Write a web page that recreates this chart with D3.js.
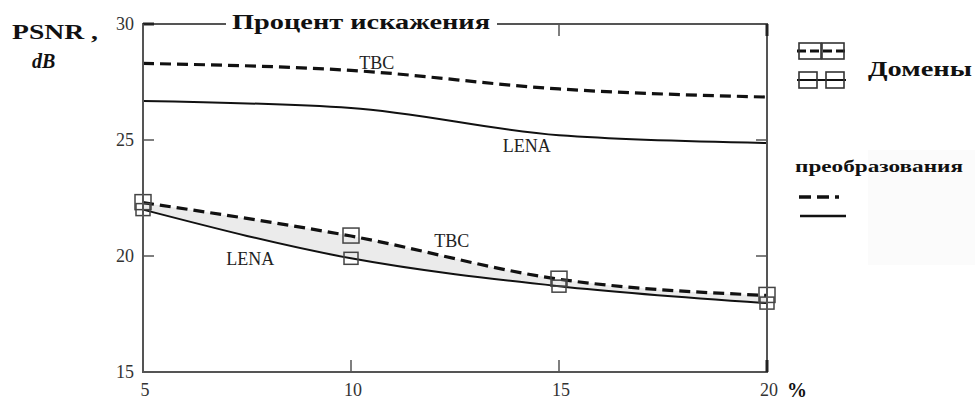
<!DOCTYPE html>
<html><head><meta charset="utf-8">
<script src="https://cdn.jsdelivr.net/npm/d3@7"></script>
<style>body{margin:0;background:#fff}svg{display:block}svg text{font-family:"Liberation Serif","Times New Roman","DejaVu Serif",serif}</style>
</head><body><svg id="c" width="975" height="402"></svg>
<script>
const distortion = [5, 10, 15, 20];
const tbcTransform = [28.3, 28.0, 27.2, 26.85];
const lenaTransform = [26.68, 26.38, 25.2, 24.87];
const tbcDomain = [22.3, 20.86, 19.0, 18.3];
const lenaDomain = [22.0, 19.9, 18.7, 17.97];
const xTicks = [5, 10, 15, 20];
const yTicks = [15, 20, 25, 30];

const svg = d3.select("#c");
const x = d3.scaleLinear().domain([5, 20]).range([143, 767]);
const y = d3.scaleLinear().domain([15, 30]).range([372, 24]);
const axisCol = "#555";

// faint legend box
svg.append("rect").attr("x", 868).attr("y", 150).attr("width", 107).attr("height", 115).attr("fill", "#fbfbfb");

// gray fill between lower curves
const area = d3.area().x((d, i) => x(distortion[i])).y0((d, i) => y(tbcDomain[i])).y1((d, i) => y(lenaDomain[i])).curve(d3.curveMonotoneX);
svg.append("path").datum(distortion).attr("d", area).attr("fill", "#ebebeb");

function line(vals) {
  return d3.line().x((d, i) => x(distortion[i])).y(d => y(d)).curve(d3.curveMonotoneX)(vals);
}
svg.append("path").attr("d", line(tbcTransform)).attr("fill", "none").attr("stroke", "#111").attr("stroke-width", 3.2).attr("stroke-dasharray", "11,6");
svg.append("path").attr("d", line(lenaTransform)).attr("fill", "none").attr("stroke", "#111").attr("stroke-width", 2);
svg.append("path").attr("d", line(tbcDomain)).attr("fill", "none").attr("stroke", "#111").attr("stroke-width", 3.2).attr("stroke-dasharray", "11,6");
svg.append("path").attr("d", line(lenaDomain)).attr("fill", "none").attr("stroke", "#111").attr("stroke-width", 2);

// markers
svg.selectAll(".mt").data(tbcDomain).join("rect")
  .attr("x", (d, i) => x(distortion[i]) - 8).attr("y", d => y(d) - 8).attr("width", 16).attr("height", 15)
  .attr("fill", "none").attr("stroke", "#444").attr("stroke-width", 1.5);
svg.selectAll(".ml").data(lenaDomain).join("rect")
  .attr("x", (d, i) => x(distortion[i]) - 7).attr("y", d => y(d) - 6).attr("width", 14).attr("height", 12)
  .attr("fill", "none").attr("stroke", "#444").attr("stroke-width", 1.5);

// frame
const g = svg.append("g");
g.append("rect").attr("x", x(5)).attr("y", y(30)).attr("width", x(20) - x(5)).attr("height", y(15) - y(30))
  .attr("fill", "none").attr("stroke", axisCol).attr("stroke-width", 2);
yTicks.forEach(t => {
  g.append("line").attr("x1", x(5)).attr("x2", x(5) + 11).attr("y1", y(t)).attr("y2", y(t)).attr("stroke", t === 30 ? "#222" : axisCol).attr("stroke-width", t === 30 ? 3 : 1.5);
  g.append("line").attr("x1", x(20)).attr("x2", x(20) - 11).attr("y1", y(t)).attr("y2", y(t)).attr("stroke", axisCol).attr("stroke-width", 1.5);
});
xTicks.forEach(t => {
  g.append("line").attr("x1", x(t)).attr("x2", x(t)).attr("y1", y(15)).attr("y2", y(15) - 12).attr("stroke", t === 20 ? "#222" : axisCol).attr("stroke-width", t === 20 ? 3 : 1.5);
  g.append("line").attr("x1", x(t)).attr("x2", x(t)).attr("y1", y(30)).attr("y2", y(30) + 12).attr("stroke", t === 20 ? "#222" : axisCol).attr("stroke-width", t === 20 ? 3 : 1.5);
});

// tick labels
svg.selectAll(".yl").data(yTicks).join("text")
  .attr("x", 134).attr("y", d => y(d) + 6).attr("text-anchor", "end")
  .attr("font-size", 18).attr("fill", "#333").text(d => d);
svg.selectAll(".xl").data(xTicks).join("text")
  .attr("x", d => x(d) + 2).attr("y", 396).attr("text-anchor", "middle")
  .attr("font-size", 18).attr("fill", "#333").text(d => d);
svg.append("text").attr("x", 787).attr("y", 397).attr("font-weight", "bold").attr("font-size", 20).attr("fill", "#111").text("%");

// title on top border
svg.append("rect").attr("x", 226).attr("y", 10).attr("width", 271).attr("height", 26).attr("fill", "#fff");
svg.append("text").attr("x", 232).attr("y", 29).attr("font-weight", "bold").attr("font-size", 20)
  .attr("textLength", 258).attr("lengthAdjust", "spacingAndGlyphs").attr("fill", "#111").text("Процент искажения");

// y title
svg.append("text").attr("x", 12).attr("y", 39).attr("font-weight", "bold").attr("font-size", 22)
  .attr("textLength", 86).attr("lengthAdjust", "spacingAndGlyphs").attr("fill", "#111").text("PSNR ,");
svg.append("text").attr("x", 32).attr("y", 68).attr("font-weight", "bold").attr("font-style", "italic").attr("font-size", 20)
  .attr("fill", "#111").text("dB");

// curve labels
const lab = (t, px, py) => svg.append("text").attr("x", px).attr("y", py).attr("font-size", 18).attr("fill", "#222").text(t);
lab("ТВС", x(10.2), y(28.05));
lab("LENA", x(13.65), y(24.5));
lab("LENA", x(7.0), y(19.6));
lab("ТВС", x(12.0), y(20.4));

// legend
const lg = svg.append("g");
lg.append("line").attr("x1", 797).attr("x2", 849).attr("y1", 51).attr("y2", 51).attr("stroke", "#111").attr("stroke-width", 3).attr("stroke-dasharray", "9,4");
[799, 822].forEach(px => lg.append("rect").attr("x", px).attr("y", 43).attr("width", 22).attr("height", 16).attr("fill", "none").attr("stroke", "#333").attr("stroke-width", 1.6));
lg.append("line").attr("x1", 797).attr("x2", 846).attr("y1", 80).attr("y2", 80).attr("stroke", "#111").attr("stroke-width", 2);
[799, 826].forEach(px => lg.append("rect").attr("x", px).attr("y", 72).attr("width", 18).attr("height", 16).attr("fill", "none").attr("stroke", "#333").attr("stroke-width", 1.6));
lg.append("text").attr("x", 868).attr("y", 76).attr("font-weight", "bold").attr("font-size", 22)
  .attr("textLength", 104).attr("lengthAdjust", "spacingAndGlyphs").attr("fill", "#111").text("Домены");
lg.append("text").attr("x", 795).attr("y", 172).attr("font-weight", "bold").attr("font-size", 17)
  .attr("textLength", 168).attr("lengthAdjust", "spacingAndGlyphs").attr("fill", "#111").text("преобразования");
lg.append("line").attr("x1", 799).attr("x2", 846).attr("y1", 197).attr("y2", 197).attr("stroke", "#111").attr("stroke-width", 3.5).attr("stroke-dasharray", "12,6,12,6,4");
lg.append("line").attr("x1", 800).attr("x2", 846).attr("y1", 216).attr("y2", 216).attr("stroke", "#111").attr("stroke-width", 2.5);
</script></body></html>
